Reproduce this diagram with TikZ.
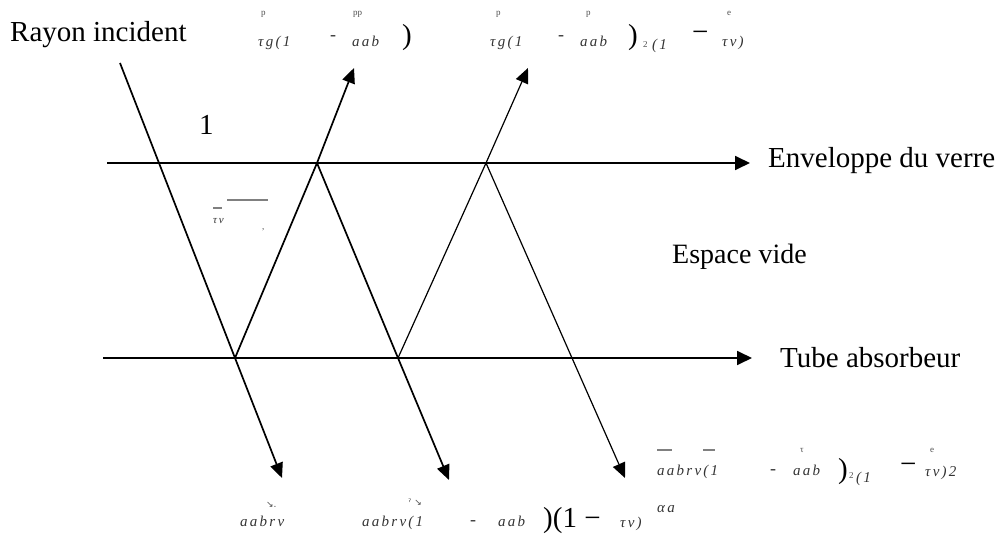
\documentclass[tikz,border=0pt]{standalone}
\usepackage{fontspec}
\setmainfont{Liberation Serif}
\newfontfamily\djv{DejaVu Sans}
\newfontfamily\smf[LetterSpace=15]{Liberation Serif}
\usetikzlibrary{arrows.meta}
\begin{document}
\begin{tikzpicture}[x=1pt,y=-1pt,
  big/.style={font=\fontsize{29}{32}\selectfont, inner sep=0pt, anchor=base west},
  sm/.style={font=\fontsize{15}{15}\smf\itshape, inner sep=0pt, anchor=base west, text=black!80},
  minustxt/.style={font=\fontsize{18}{18}\selectfont, inner sep=0pt, anchor=base west, text=black!80},
  tn/.style={font=\fontsize{9}{9}\selectfont, inner sep=0pt, anchor=base west, text=black!70},
  bar/.style={line width=1.2pt, black!50},
  axis/.style={line width=1.8pt, -{Triangle[length=15pt,width=14pt]}},
  ray/.style={line width=1.7pt, -{Triangle[length=15pt,width=13pt]}},
  thinray/.style={line width=1.2pt, -{Triangle[length=15pt,width=13pt]}}]
\useasboundingbox (0,0) rectangle (1003,537);
% points
\coordinate (S) at (120,63);
\coordinate (G0) at (107,163); \coordinate (G1) at (750,163);
\coordinate (B0) at (103,358); \coordinate (B1) at (752,358);
\coordinate (P1) at (317,163); \coordinate (P2) at (486,163);
\coordinate (A1) at (235,358); \coordinate (A2) at (398,358); \coordinate (A3) at (572,358);
\coordinate (T1) at (354,68); \coordinate (T2) at (528,68);
\coordinate (E1) at (282,478); \coordinate (E2) at (449,480); \coordinate (E3) at (625,478);
% lines
\draw[axis] (G0) -- (G1);
\draw[axis] (B0) -- (B1);
\draw[ray] (S) -- (A1) -- (E1);
\draw[ray] (A1) -- (P1) -- (T1);
\draw[ray] (P1) -- (A2) -- (E2);
\draw[thinray] (A2) -- (P2) -- (T2);
\draw[thinray] (P2) -- (A3) -- (E3);
% main labels
\node[big] (ri) at (10,42) {Rayon incident};
\node[big] (one) at (199,135) {1};
\node[big] (env) at (768,168) {Enveloppe du verre};
\node[big, font=\fontsize{28}{30}\selectfont] (esp) at (672,263) {Espace vide};
\node[big] (tub) at (780,367) {Tube absorbeur};
% top label 1
\node[tn] (l1a) at (261,16) {p};
\node[sm] (l1b) at (258,47) {τg(1};
\node[minustxt] (l1c) at (330,41) {-};
\node[tn] (l1d) at (353,16) {pp};
\node[sm] (l1e) at (352,47) {aab};
\node[big] (l1f) at (402,45) {)};
% top label 2
\node[tn] (l2a) at (496,16) {p};
\node[sm] (l2b) at (490,47) {τg(1};
\node[minustxt] (l2c) at (558,41) {-};
\node[tn] (l2d) at (586,16) {p};
\node[sm] (l2e) at (580,47) {aab};
\node[big] (l2f) at (628,45) {)};
\node[tn] (l2g) at (643,48) {2};
\node[sm] (l2h) at (652,50) {(1};
\node[big] (l2i) at (692,42) {−};
\node[tn] (l2j) at (727,16) {e};
\node[sm] (l2k) at (722,47) {τv)};
% label 3
\draw[bar] (227,200) -- (268,200);
\draw[bar] (213,208) -- (222,208);
\node[sm, font=\fontsize{11}{11}\smf\itshape] (l3a) at (213,224) {τv};
\node[tn] (l3b) at (262,230) {,};
% bottom label 4
\node[tn] (l4a) at (266,507) {\djv ↘.};
\node[sm] (l4b) at (240,526) {aabrv};
% bottom label 5
\node[tn] (l5a) at (408,505) {\djv ˀ ↘};
\node[sm] (l5b) at (362,526) {aabrv(1};
\node[minustxt] (l5c) at (470,525) {-};
\node[sm] (l5d) at (498,526) {aab};
\node[big] (l5e) at (543,527) {)(1 −};
\node[sm] (l5f) at (620,527) {τv)};
\node[sm] (l5g) at (657,512) {αa};
% bottom label 6
\draw[bar] (657,450) -- (672,450);
\draw[bar] (703,450) -- (715,450);
\node[sm] (l6a) at (657,475) {aabrv(1};
\node[minustxt] (l6b) at (770,474) {-};
\node[tn] (l6c) at (800,452) {τ};
\node[sm] (l6d) at (793,475) {aab};
\node[big] (l6e) at (838,478) {)};
\node[tn] (l6f) at (849,478) {2};
\node[sm] (l6g) at (856,482) {(1};
\node[big] (l6h) at (900,473) {−};
\node[tn] (l6i) at (930,452) {e};
\node[sm] (l6j) at (925,476) {τv)2};
\end{tikzpicture}
\end{document}
